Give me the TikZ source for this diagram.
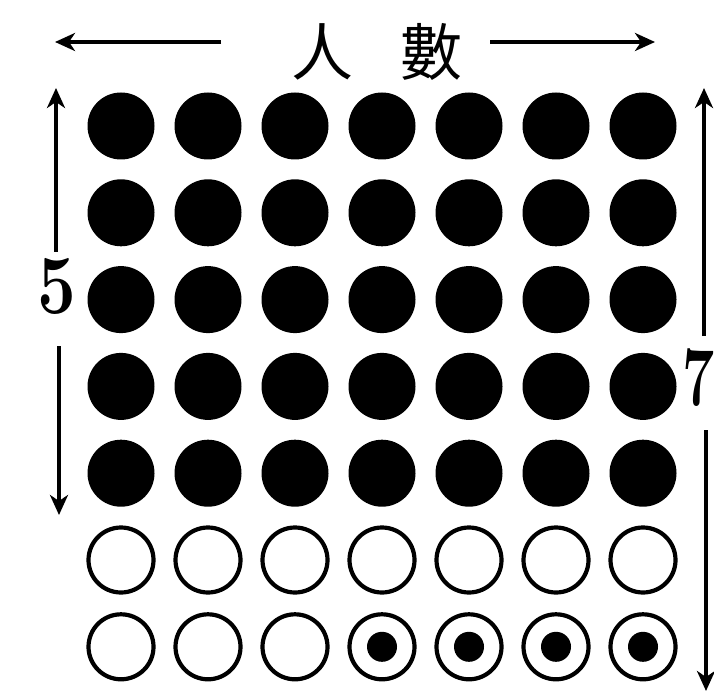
\documentclass[tikz,border=0pt]{standalone}
\usepackage{fontspec}
\newfontfamily\cjk{Noto Sans CJK TC}
\usetikzlibrary{arrows.meta}
\begin{document}
\begin{tikzpicture}[x=1pt,y=-1pt,
  filled/.style={circle,fill=black,inner sep=0pt,minimum size=67pt},
  open/.style={circle,draw=black,line width=4.2pt,inner sep=0pt,minimum size=65pt},
  dot/.style={circle,fill=black,inner sep=0pt,minimum size=30pt},
  arr/.style={line width=4pt,-{Stealth[length=20pt,width=18pt,inset=6pt]}},
  lbl/.style={inner sep=0pt,font=\fontsize{84}{84}\selectfont\bfseries}]
\useasboundingbox (0,0) rectangle (714,692);
% grid
\foreach \r [evaluate=\r as \yy using 126+86.8*(\r-1)] in {1,...,7}{
  \foreach \c [evaluate=\c as \xx using 121+87*(\c-1)] in {1,...,7}{
    \ifnum\r<6
      \node[filled] (c-\r-\c) at (\xx,\yy) {};
    \else
      \node[open] (c-\r-\c) at (\xx,\yy) {};
    \fi
  }
}
\foreach \c in {4,...,7}{
  \node[dot] (d-\c) at (c-7-\c.center) {};
}
% top label
\node[inner sep=0pt,font=\cjk\fontsize{62}{62}\selectfont] (title) at (377,52) {人\hspace{0.75em}數};
\coordinate (tl) at (55,42);
\coordinate (tr) at (655,42);
\coordinate (tls) at (221,42);
\coordinate (trs) at (490,42);
\draw[arr] (tls) -- (tl);
\draw[arr] (trs) -- (tr);
% left
\node[lbl] (five) at (57,286) {\scalebox{0.82}[1]{5}};
\coordinate (lt) at (56,88);
\coordinate (lts) at (56,252);
\coordinate (lb) at (59,515);
\coordinate (lbs) at (59,346);
\draw[arr] (lts) -- (lt);
\draw[arr] (lbs) -- (lb);
% right
\node[lbl] (seven) at (699,378) {\scalebox{0.68}[1]{7}};
\coordinate (rt) at (704,88);
\coordinate (rts) at (704,336);
\coordinate (rb) at (706,691);
\coordinate (rbs) at (706,430);
\draw[arr] (rts) -- (rt);
\draw[arr] (rbs) -- (rb);
\end{tikzpicture}
\end{document}
